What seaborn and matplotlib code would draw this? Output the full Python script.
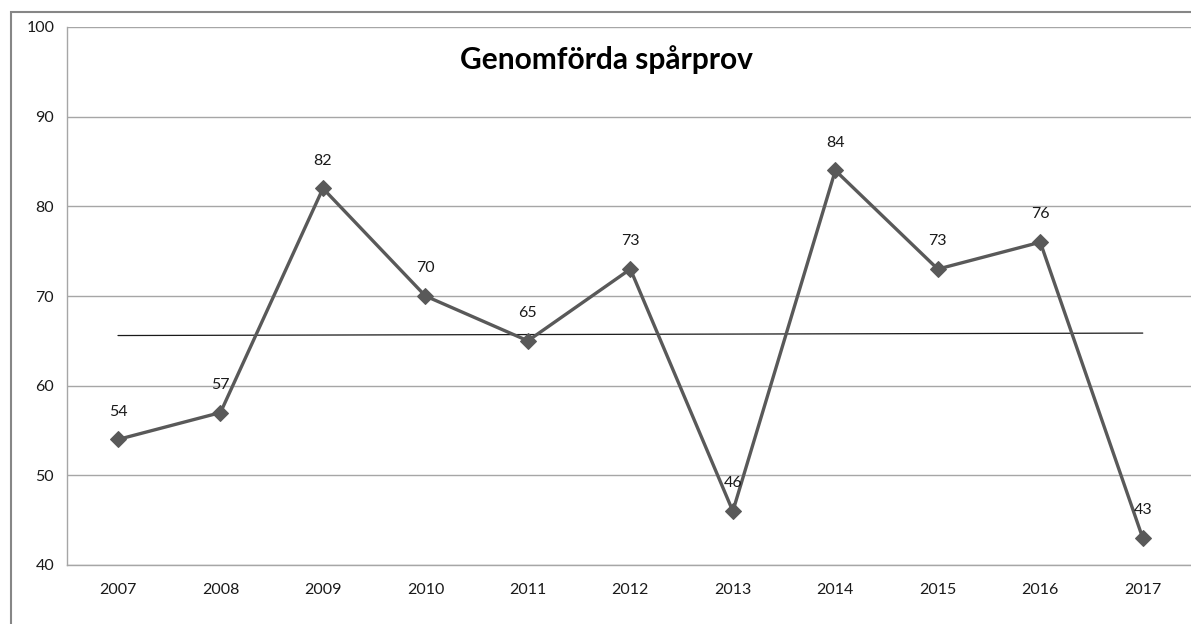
import matplotlib
matplotlib.use("Agg")
import matplotlib.pyplot as plt
import seaborn as sns
import pandas as pd
from matplotlib.patches import Rectangle

# Data
years = ["2007", "2008", "2009", "2010", "2011", "2012", "2013", "2014", "2015", "2016", "2017"]
values = [54, 57, 82, 70, 65, 73, 46, 84, 73, 76, 43]
y_ticks = [40, 50, 60, 70, 80, 90, 100]
title = "Genomförda spårprov"

df = pd.DataFrame({"pos": range(len(years)), "year": years, "value": values})

sns.set_theme(style="white")
plt.rcParams["font.family"] = ["Lato", "DejaVu Sans"]

fig = plt.figure(figsize=(11.91, 6.24), dpi=100)
W, H = 1191, 624
left, right, top, bottom = 66.75, 1194, 27, 565
ax = fig.add_axes([left / W, 1 - bottom / H, (right - left) / W, (bottom - top) / H])

# Outer chart border (runs off right/bottom edge)
fig.patches.append(Rectangle((11 / W, -0.05), 1.1, 1 - 12 / H + 0.05, transform=fig.transFigure,
                             fill=False, edgecolor="#868686", linewidth=1.5, zorder=0))

grid_col = "#a6a6a6"
for v in y_ticks:
    ax.axhline(v, color=grid_col, linewidth=1.0, zorder=1)

# linear trend line
sns.regplot(data=df, x="pos", y="value", scatter=False, ci=None, truncate=True,
            line_kws={"color": "#1a1a1a", "linewidth": 0.9, "zorder": 2}, ax=ax)

sns.lineplot(data=df, x="pos", y="value", color="#595959", linewidth=2.4, marker="D",
             markersize=8, markeredgecolor="#595959", zorder=3, ax=ax)

for x, v in zip(df["pos"], df["value"]):
    ax.annotate(str(v), (x, v), xytext=(0, 20), textcoords="offset points",
                ha="center", va="center", fontsize=11.5, color="#1a1a1a", zorder=4)

ax.set_xlim(-0.5, len(years) - 0.5)
ax.set_ylim(40, 100)
ax.set_xticks(range(len(years)))
ax.set_xticklabels(years)
ax.set_xticks([i - 0.5 for i in range(len(years) + 1)], minor=True)
ax.set_yticks(y_ticks)
ax.tick_params(axis="x", which="major", length=0, pad=13, labelsize=11.5, labelcolor="#1a1a1a")
ax.tick_params(axis="x", which="minor", length=5, width=1, color=grid_col, direction="out")
ax.tick_params(axis="y", length=5, width=1, color=grid_col, direction="out", pad=4,
               labelsize=11.5, labelcolor="#1a1a1a")
ax.set_xlabel("")
ax.set_ylabel("")

for s in ["top", "right"]:
    ax.spines[s].set_visible(False)
for s in ["left", "bottom"]:
    ax.spines[s].set_color(grid_col)
    ax.spines[s].set_linewidth(1.0)

fig.text(606 / W, 1 - 60 / H, title, ha="center", va="center", fontsize=21.5,
         fontweight="bold", color="#000000")

fig.savefig("out.png", dpi=100)
